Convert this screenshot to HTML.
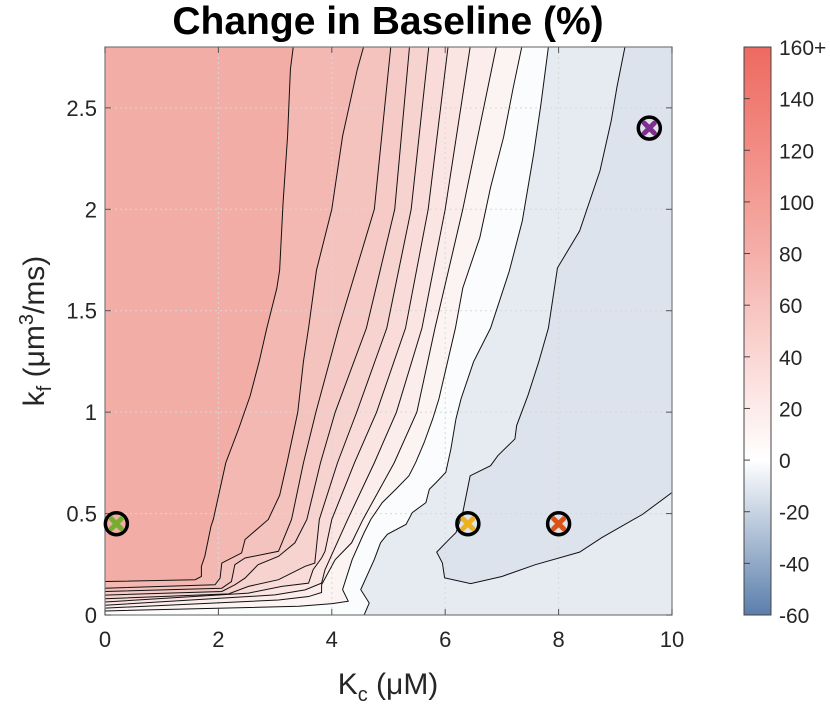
<!DOCTYPE html>
<html><head><meta charset="utf-8">
<style>
html,body{margin:0;padding:0;background:#fff;}
svg{display:block;font-family:"Liberation Sans",sans-serif;}
</style></head>
<body>
<svg id="chart" width="830" height="707" viewBox="0 0 830 707" xmlns="http://www.w3.org/2000/svg">
<defs>
<linearGradient id="cbg" x1="0" y1="0" x2="0" y2="1">
<stop offset="0" stop-color="#ee6a60"/>
<stop offset="0.36" stop-color="#f5aea8"/>
<stop offset="0.727" stop-color="#ffffff"/>
<stop offset="1" stop-color="#5a7eab"/>
</linearGradient>
<clipPath id="plotclip"><rect x="105" y="47" width="567" height="568"/></clipPath>
</defs>
<text x="388" y="34" text-anchor="middle" font-size="39" font-weight="bold" fill="#000">Change in Baseline (%)</text>
<g id="fills" clip-path="url(#plotclip)"></g>
<g id="grid"></g>
<g id="lines" clip-path="url(#plotclip)"></g>
<rect x="105" y="47" width="567" height="568" fill="none" stroke="#7a7a7a" stroke-width="1.2"/>
<g id="axes"></g>
<g id="markers"></g>
<text x="388" y="694" text-anchor="middle" font-size="30" fill="#262626">K<tspan font-size="20" dy="7">c</tspan><tspan dy="-7"> (μM)</tspan></text>
<text transform="translate(44,331) rotate(-90)" text-anchor="middle" font-size="30" fill="#262626">k<tspan font-size="20" dy="7">f</tspan><tspan dy="-7"> (μm</tspan><tspan font-size="20" dy="-11">3</tspan><tspan dy="11">/ms)</tspan></text>
<rect x="744" y="47" width="27" height="568" fill="url(#cbg)" stroke="#444" stroke-width="1"/>
<g id="cbar"></g>
</svg>
<script>
// Data
const levels = [90, 80, 70, 60, 50, 40, 30, 20, 10, 0, -10];
const contourL1 = [[3.32,2.8],[3.27,2.69],[3.22,2.36],[3.14,2.03],[3.08,1.70],[3.03,1.61],[2.85,1.41],[2.72,1.25],[2.56,1.08],[2.36,0.92],[2.13,0.75],[1.91,0.471],[1.87,0.438],[1.76,0.289],[1.70,0.24],[1.70,0.19],[1.59,0.174],[0,0.165]];
const contourL2 = [[4.56,2.8],[4.45,2.69],[4.19,2.36],[4.0,2.0],[3.73,1.70],[3.59,1.414],[3.50,1.25],[3.40,1.0],[3.21,0.75],[3.08,0.59],[2.88,0.471],[2.47,0.372],[2.41,0.306],[2.06,0.256],[2.03,0.182],[1.94,0.149],[0,0.132]];
const contourL3 = [[5.04,2.8],[4.75,2.0],[4.12,1.414],[3.72,1.0],[3.5,0.75],[3.29,0.471],[3.06,0.314],[2.47,0.281],[2.29,0.248],[2.23,0.165],[2.06,0.132],[0,0.116]];
const contourL4 = [[5.37,2.8],[5.11,2.0],[4.61,1.414],[4.06,1.0],[3.80,0.75],[3.56,0.471],[3.35,0.356],[3.06,0.289],[2.70,0.248],[2.47,0.182],[2.29,0.149],[2.06,0.116],[0,0.098]];
const contourL5 = [[5.71,2.8],[5.40,2.0],[4.97,1.414],[4.44,1.0],[4.1,0.75],[3.78,0.471],[3.70,0.256],[3.53,0.240],[3.06,0.174],[2.53,0.141],[2.18,0.104],[0,0.080]];
const contourL6 = [[6.05,2.8],[5.70,2.0],[5.30,1.414],[4.79,1.0],[4.4,0.75],[4.0,0.471],[3.88,0.314],[3.82,0.281],[3.67,0.223],[3.59,0.157],[3.12,0.141],[2.53,0.108],[0,0.064]];
const contourL7 = [[6.44,2.8],[6.0,2.0],[5.59,1.414],[5.14,1.0],[4.75,0.75],[4.28,0.471],[4.12,0.372],[3.88,0.223],[3.82,0.157],[3.53,0.124],[3.0,0.099],[0,0.048]];
const contourL8 = [[6.90,2.8],[6.31,2.0],[5.82,1.414],[5.50,1.0],[5.1,0.75],[4.55,0.471],[4.35,0.356],[4.06,0.273],[3.82,0.149],[3.82,0.111],[3.59,0.091],[3.06,0.074],[0,0.034]];
const contourL9 = [[7.35,2.8],[7.20,2.6],[7.03,2.356],[6.80,2.108],[6.61,1.86],[6.31,1.612],[6.18,1.414],[5.89,1.066],[5.78,0.967],[5.63,0.851],[5.48,0.752],[5.36,0.686],[5.13,0.62],[4.89,0.554],[4.69,0.472],[4.57,0.406],[4.36,0.274],[4.19,0.125],[4.29,0.068],[4.01,0.056],[3.42,0.043],[0,0.02]];
const contourL10 = [[7.82,2.8],[7.69,2.521],[7.56,2.273],[7.36,1.943],[7.13,1.695],[6.80,1.414],[6.5,1.248],[6.28,1.066],[6.19,0.967],[6.10,0.818],[6.01,0.703],[5.84,0.653],[5.72,0.62],[5.66,0.554],[5.42,0.505],[5.31,0.447],[4.98,0.398],[4.86,0.356],[4.75,0.274],[4.51,0.125],[4.66,0.059],[4.57,0]];
const contourL11 = [[9.17,2.8],[9.03,2.604],[8.93,2.439],[8.73,2.19],[8.57,2.058],[8.37,1.893],[7.98,1.711],[7.82,1.414],[7.65,1.248],[7.46,1.083],[7.26,0.934],[7.23,0.868],[6.93,0.786],[6.80,0.736],[6.44,0.686],[6.31,0.505],[6.19,0.406],[6.07,0.373],[5.85,0.310],[5.95,0.257],[5.99,0.183],[6.45,0.155],[7.0,0.19],[7.59,0.248],[8.37,0.31],[8.76,0.381],[9.48,0.496],[10,0.604]];
const contours = [contourL1,contourL2,contourL3,contourL4,contourL5,contourL6,contourL7,contourL8,contourL9,contourL10,contourL11];
const markerKc = [0.2, 6.4, 8.0, 9.6];
const markerKf = [0.45, 0.45, 0.45, 2.4];
const xTicks = [0, 2, 4, 6, 8, 10];
const yTicks = [0, 0.5, 1, 1.5, 2, 2.5];
const yTickLabels = ["0", "0.5", "1", "1.5", "2", "2.5"];
const cbTicks = [160, 140, 120, 100, 80, 60, 40, 20, 0, -20, -40, -60];
const cbTickLabels = ["160+", "140", "120", "100", "80", "60", "40", "20", "0", "-20", "-40", "-60"];

// Styles
const bandColors = ["#f2ada6","#f4b8b3","#f5c3be","#f6cbc7","#f7d3d0","#f9dcda","#fae5e3","#fbedeb","#fcf4f3","#fbfcfe","#e6ebf2","#dce3ed"];
const markerColors = ["#77ac30","#edb120","#d95319","#7e2f8e"];

const NS = "http://www.w3.org/2000/svg";
const X0 = 105, X1 = 672, Y0 = 615, Y1 = 47;
const xMin = 0, xMax = 10, yMin = 0, yMax = 2.8;
function sx(v){ return X0 + (v - xMin) / (xMax - xMin) * (X1 - X0); }
function sy(v){ return Y0 - (v - yMin) / (yMax - yMin) * (Y0 - Y1); }
const cbMin = -60, cbMax = 160, CB0 = 615, CB1 = 47;
function cy(v){ return CB0 - (v - cbMin) / (cbMax - cbMin) * (CB0 - CB1); }
function mk(tag, attrs){ const e = document.createElementNS(NS, tag); for (const k in attrs) e.setAttribute(k, attrs[k]); return e; }

const fills = document.getElementById('fills');
const linesG = document.getElementById('lines');
const bg = mk('rect', {x:X0, y:Y1, width:X1-X0, height:Y0-Y1, fill:bandColors[0]});


fills.appendChild(bg);

contours.forEach((pts, i) => {
  const poly = pts.map(p => [p[0], p[1]]);
  const last = pts[pts.length - 1];
  if (last[0] <= xMin) { poly.push([xMin, yMin]); poly.push([xMax, yMin]); poly.push([xMax, yMax]); }
  else if (last[1] <= yMin) { poly.push([xMax, yMin]); poly.push([xMax, yMax]); }
  else { poly.push([xMax, yMax]); }
  const d = poly.map((p, j) => (j ? 'L' : 'M') + sx(p[0]).toFixed(2) + ',' + sy(p[1]).toFixed(2)).join('') + 'Z';
  const f = mk('path', {d: d, fill: bandColors[i + 1], stroke: 'none'});
  
  
  fills.appendChild(f);
  const ld = pts.map((p, j) => (j ? 'L' : 'M') + sx(p[0]).toFixed(2) + ',' + sy(p[1]).toFixed(2)).join('');
  const l = mk('path', {d: ld, fill: 'none', stroke: '#111', 'stroke-width': 1});
  
  
  linesG.appendChild(l);
});

const grid = document.getElementById('grid');
const axes = document.getElementById('axes');
xTicks.forEach(v => {
  const x = sx(v);
  if (v > xMin && v < xMax) {
    const g = mk('line', {x1:x, y1:Y1, x2:x, y2:Y0, stroke:'#d8d8d8', 'stroke-width':1, 'stroke-dasharray':'2,3'});
    
    
    grid.appendChild(g);
  }
  const t1 = mk('line', {x1:x, y1:Y0, x2:x, y2:Y0-6, stroke:'#555', 'stroke-width':1});
  
  
  axes.appendChild(t1);
  const t2 = mk('line', {x1:x, y1:Y1, x2:x, y2:Y1+6, stroke:'#555', 'stroke-width':1});
  
  
  axes.appendChild(t2);
  const lab = mk('text', {x:x, y:Y0+32, 'text-anchor':'middle', 'font-size':22, fill:'#262626'});
  lab.textContent = String(v);
  
  
  axes.appendChild(lab);
});
yTicks.forEach((v, i) => {
  const y = sy(v);
  if (v > yMin && v < yMax) {
    const g = mk('line', {x1:X0, y1:y, x2:X1, y2:y, stroke:'#d8d8d8', 'stroke-width':1, 'stroke-dasharray':'2,3'});
    
    
    grid.appendChild(g);
  }
  const t1 = mk('line', {x1:X0, y1:y, x2:X0+6, y2:y, stroke:'#555', 'stroke-width':1});
  
  
  axes.appendChild(t1);
  const t2 = mk('line', {x1:X1, y1:y, x2:X1-6, y2:y, stroke:'#555', 'stroke-width':1});
  
  
  axes.appendChild(t2);
  const lab = mk('text', {x:X0-8, y:y+8, 'text-anchor':'end', 'font-size':22, fill:'#262626'});
  lab.textContent = yTickLabels[i];
  
  
  axes.appendChild(lab);
});

const mg = document.getElementById('markers');
markerKc.forEach((v, i) => {
  const x = sx(v), y = sy(markerKf[i]);
  const c = mk('circle', {cx:x, cy:y, r:11, fill:'none', stroke:'#000', 'stroke-width':3.5});
  
  
  mg.appendChild(c);
  const xm = mk('path', {d:'M'+(x-5)+','+(y-5)+'L'+(x+5)+','+(y+5)+'M'+(x+5)+','+(y-5)+'L'+(x-5)+','+(y+5), stroke:markerColors[i], 'stroke-width':5, 'stroke-linecap':'round'});
  
  
  mg.appendChild(xm);
});

const cb = document.getElementById('cbar');
cbTicks.forEach((v, i) => {
  const y = cy(v);
  if (v > cbMin && v < cbMax) {
    const t = mk('line', {x1:744, y1:y, x2:750, y2:y, stroke:'#444', 'stroke-width':1});
    
    
    cb.appendChild(t);
  }
  const lab = mk('text', {x:779, y:y+8, 'font-size':21, fill:'#262626'});
  lab.textContent = cbTickLabels[i];
  
  
  cb.appendChild(lab);
});
</script>
</body></html>
